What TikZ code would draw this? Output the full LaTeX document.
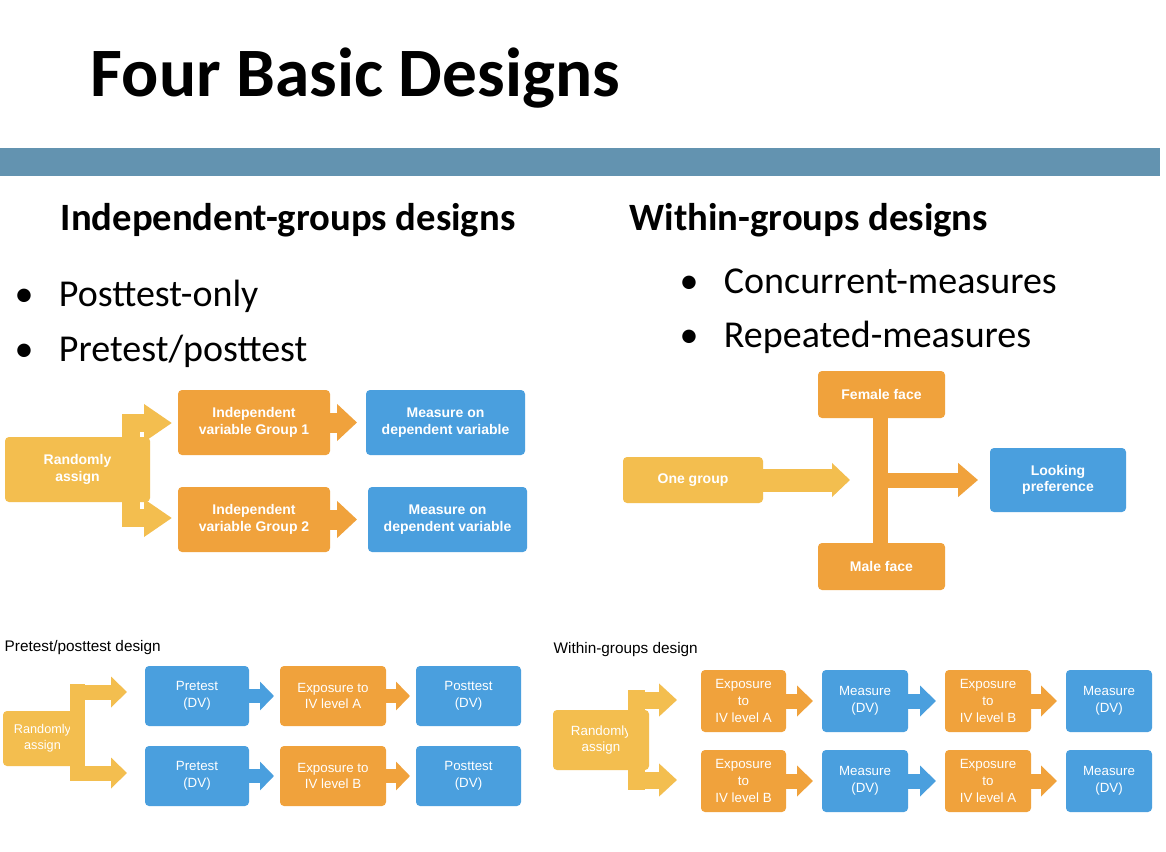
\documentclass[tikz,border=0pt]{standalone}
\usepackage{fontspec}
\setmainfont{Liberation Sans}
\newfontfamily\carl{Carlito}
\usetikzlibrary{arrows.meta}
\definecolor{yel}{HTML}{F3BE4F}
\definecolor{org}{HTML}{F0A23C}
\definecolor{blu}{HTML}{4A9FDE}
\definecolor{barc}{HTML}{6393B0}
\newcommand{\bx}[7]{\node[#6, minimum width={(#4-#2)*0.75pt}, minimum height={(#5-#3)*0.75pt}] (#1) at ({(#2+#4)/2},{(#3+#5)/2}) {#7};}
\tikzset{
  x=0.75pt, y=-0.75pt,
  box/.style={rounded corners=3pt, inner sep=0pt, outer sep=0pt, text=white, align=center, font=\bfseries\fontsize{10.5}{12.5}\selectfont},
  sbox/.style={box, font=\fontsize{10}{12.5}\selectfont},
  fy/.style={fill=yel}, fo/.style={fill=org}, fb/.style={fill=blu},
  fat/.style n args={4}{draw=#1, line width=#2*0.75pt, -{Triangle[length=#4*0.75pt, width=#3*0.75pt]}},
}
\begin{document}
\begin{tikzpicture}
\useasboundingbox (0,0) rectangle (1166,852);
\fill[white] (0,0) rectangle (1166,852);
\node[anchor=west, font=\carl\bfseries\fontsize{52}{56}\selectfont] (title) at (86,78) {Four Basic Designs};
\fill[barc] (0,148) rectangle (1160,176);
\node[anchor=west, font=\carl\bfseries\fontsize{29}{33}\selectfont] (h1) at (56,220) {Independent-groups designs};
\node[anchor=west, font=\carl\bfseries\fontsize{29}{33}\selectfont] (h2) at (625,220) {Within-groups designs};
\tikzset{bul/.style={anchor=west, font=\carl\fontsize{28.5}{32}\selectfont}}
\node[bul] (b1) at (10,296) {•\hspace{19pt}Posttest-only};
\node[bul] (b2) at (10,351) {•\hspace{19pt}Pretest/posttest};
\node[bul] (b3) at (675,281) {•\hspace{19pt}Concurrent-measures};
\node[bul] (b4) at (675,337) {•\hspace{19pt}Repeated-measures};

% diagram 1
\bx{ra1}{5}{437}{150}{502}{box,fy}{Randomly\\assign}
\bx{g1}{178}{390}{330}{455}{box,fo}{Independent\\variable Group 1}
\bx{g2}{178}{487}{330}{552}{box,fo}{Independent\\variable Group 2}
\bx{m1}{366}{390}{525}{455}{box,fb}{Measure on\\dependent variable}
\bx{m2}{368}{487}{527}{552}{box,fb}{Measure on\\dependent variable}
\fill[yel] (122,414) rectangle (140,527);
\coordinate (f1e) at (172,423);
\coordinate (f2e) at (172,518);
\draw[fat={yel}{18}{36}{28}] (130,423) -- (f1e);
\draw[fat={yel}{18}{36}{28}] (130,518) -- (f2e);
\draw[fat={org}{20}{36}{20}] (g1.east) -- ([xshift=27*0.75pt]g1.east);
\draw[fat={org}{20}{36}{20}] (g2.east) -- ([xshift=27*0.75pt]g2.east);

% diagram 2
\bx{og}{623}{457}{763}{503}{box,fy}{One group}
\bx{ff}{818}{371}{945}{418}{box,fo}{Female face}
\bx{mf}{818}{543}{945}{590}{box,fo}{Male face}
\bx{lp}{990}{448}{1126}{512}{box,fb}{Looking\\preference}
\fill[org] (873,415) rectangle (888,546);
\coordinate (oge) at (850,480);
\draw[fat={yel}{23}{33}{18}] (og.east) -- (oge);
\coordinate (jn) at (885,480); \coordinate (jne) at (978,480);
\draw[fat={org}{15}{33}{20}] (jn) -- (jne);

% bottom left
\node[anchor=west, font=\fontsize{11.5}{13}\selectfont] (t3) at (0,648) {Pretest/posttest design};
\bx{ra2}{3}{711}{82}{766}{sbox,fy,font=\fontsize{9.5}{12}\selectfont}{Randomly\\assign}
\fill[yel] (70,684) rectangle (85,781);
\draw[fat={yel}{15}{30}{16}] (77,692) -- (127,692);
\draw[fat={yel}{15}{30}{16}] (77,773) -- (127,773);
\bx{p1}{145}{666}{249}{726}{sbox,fb}{Pretest\\(DV)}
\bx{p2}{145}{746}{249}{806}{sbox,fb}{Pretest\\(DV)}
\bx{e1}{280}{666}{386}{726}{sbox,fo}{Exposure to\\IV level A}
\bx{e2}{280}{746}{386}{806}{sbox,fo}{Exposure to\\IV level B}
\bx{q1}{416}{666}{521}{726}{sbox,fb}{Posttest\\(DV)}
\bx{q2}{416}{746}{521}{806}{sbox,fb}{Posttest\\(DV)}
\foreach \a/\b/\c in {p1/e1/blu,p2/e2/blu,e1/q1/org,e2/q2/org}
  \draw[fat={\c}{14}{28}{14}] (\a.east) -- ([xshift=-6*0.75pt]\b.west);

% bottom right
\node[anchor=west, font=\fontsize{11.5}{13}\selectfont] (t4) at (549,650) {Within-groups design};
\bx{ra3}{553}{710}{649}{770}{sbox,fy}{Randomly\\assign}
\fill[yel] (628,690) rectangle (645,790);
\draw[fat={yel}{17}{32}{18}] (636,700) -- (677,700);
\draw[fat={yel}{17}{32}{18}] (636,780) -- (677,780);
\bx{x1}{701}{670}{786}{732}{sbox,fo}{Exposure\\to\\IV level A}
\bx{x2}{701}{750}{786}{812}{sbox,fo}{Exposure\\to\\IV level B}
\bx{y1}{822}{670}{908}{732}{sbox,fb}{Measure\\(DV)}
\bx{y2}{822}{750}{908}{812}{sbox,fb}{Measure\\(DV)}
\bx{z1}{945}{670}{1031}{732}{sbox,fo}{Exposure\\to\\IV level B}
\bx{z2}{945}{750}{1031}{812}{sbox,fo}{Exposure\\to\\IV level A}
\bx{w1}{1066}{670}{1152}{732}{sbox,fb}{Measure\\(DV)}
\bx{w2}{1066}{750}{1152}{812}{sbox,fb}{Measure\\(DV)}
\foreach \a/\b/\c in {x1/y1/org,x2/y2/org,y1/z1/blu,y2/z2/blu,z1/w1/org,z2/w2/org}
  \draw[fat={\c}{15}{30}{16}] (\a.east) -- ([xshift=-9*0.75pt]\b.west);
\end{tikzpicture}
\end{document}
